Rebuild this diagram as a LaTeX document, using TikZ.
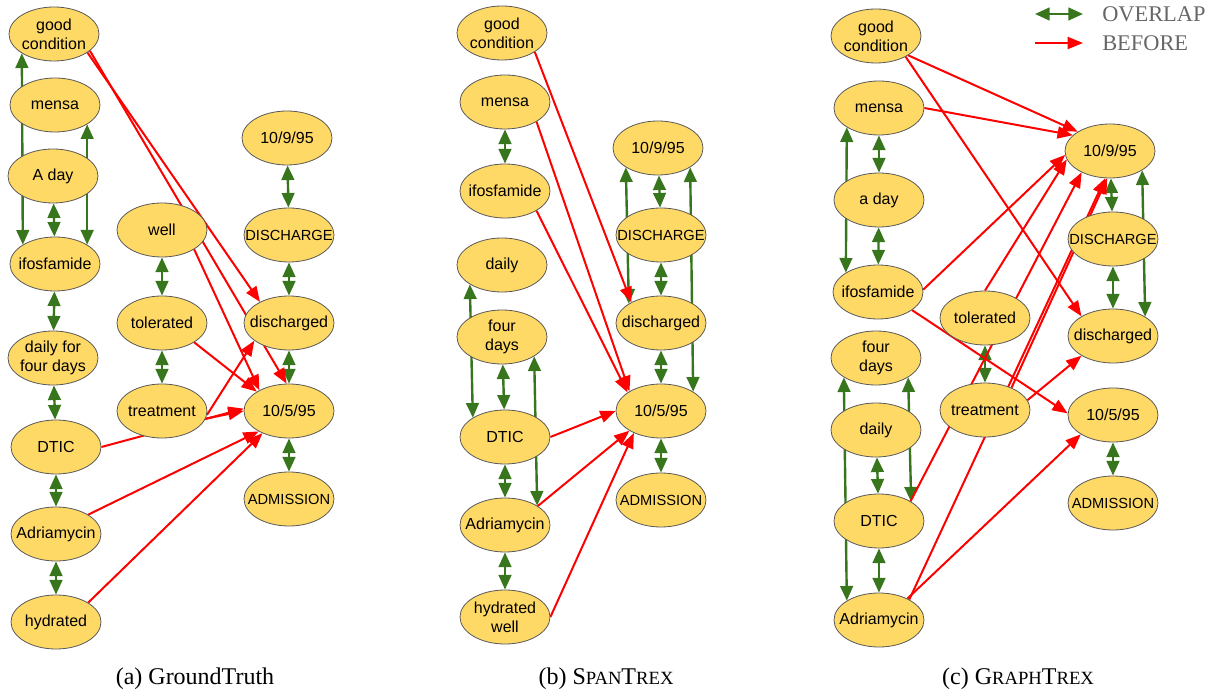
\documentclass[tikz,border=0pt]{standalone}
\usepackage{fontspec}
\setmainfont{Liberation Serif}
\setsansfont{Liberation Sans}
\usetikzlibrary{
    arrows.meta,
    shapes.geometric,
    backgrounds
}
\definecolor{evfill}{HTML}{FFD966}
\definecolor{evline}{HTML}{595959}
\definecolor{ovgreen}{HTML}{38761D}
\definecolor{legendgray}{HTML}{666666}
\newcommand{\scpart}[1]{{\fontsize{14}{16}\selectfont #1}}

\begin{document}
\begin{tikzpicture}[x=0.75pt, y=-0.75pt,
    event/.style={ellipse, draw=evline, line width=0.6pt, fill=evfill,
        minimum width=67.5pt, minimum height=40.5pt, inner xsep=-14pt, inner ysep=0pt,
        align=center, font=\sffamily\fontsize{12}{14.5}\selectfont},
    capsevent/.style={event, font=\sffamily\fontsize{11}{13}\selectfont},
    overlap/.style={ovgreen, line width=1.8pt,
        {Triangle[length=11pt,width=9.5pt]}-{Triangle[length=11pt,width=9.5pt]}},
    before/.style={red, line width=1.5pt, -{Triangle[length=11.5pt,width=9pt]}},
    caption/.style={font=\fontsize{18}{20}\selectfont}]
    \useasboundingbox (0,0) rectangle (1215,695);

    % (a) ground truth
    \node[event] (agood) at (54,34) {good\\condition};
    \node[event] (amensa) at (55,105) {mensa};
    \node[event] (aaday) at (53,176) {A day};
    \node[event] (aifos) at (55,264) {ifosfamide};
    \node[event] (adaily) at (53,358) {daily for\\four days};
    \node[event] (adtic) at (56,447) {DTIC};
    \node[event] (aadria) at (56,534) {Adriamycin};
    \node[event] (ahydr) at (56,622) {hydrated};
    \node[event] (awell) at (162,230) {well};
    \node[event] (atol) at (162,323) {tolerated};
    \node[event] (atreat) at (162,411) {treatment};
    \node[event] (a1009) at (287,138) {10/9/95};
    \node[capsevent] (aDIS) at (289,235) {DISCHARGE};
    \node[event] (adis) at (289,323) {discharged};
    \node[event] (a1005) at (289,411) {10/5/95};
    \node[capsevent] (aADM) at (289,499) {ADMISSION};
    \node[caption] (capa) at (195,679) {(a) GroundTruth};

    % (b) span model
    \node[event] (bgood) at (502,33) {good\\condition};
    \node[event] (bmensa) at (505,102) {mensa};
    \node[event] (bifos) at (505,191) {ifosfamide};
    \node[event] (bdaily) at (502,265) {daily};
    \node[event] (bfour) at (502,337) {four\\days};
    \node[event] (bdtic) at (505,437) {DTIC};
    \node[event] (badria) at (505,525) {Adriamycin};
    \node[event] (bhydr) at (505,617) {hydrated\\well};
    \node[event] (b1009) at (658,148) {10/9/95};
    \node[capsevent] (bDIS) at (661,235) {DISCHARGE};
    \node[event] (bdis) at (661,323) {discharged};
    \node[event] (b1005) at (661,411) {10/5/95};
    \node[capsevent] (bADM) at (661,500) {ADMISSION};
    \node[caption] (capb) at (606,679) {(b) S\scpart{PAN}T\scpart{REX}};

    % (c) graph model
    \node[event] (cgood) at (876,36) {good\\condition};
    \node[event] (cmensa) at (879,108) {mensa};
    \node[event] (caday) at (879,200) {a day};
    \node[event] (cifos) at (878,292) {ifosfamide};
    \node[event] (cfour) at (876,358) {four\\days};
    \node[event] (cdaily) at (876,430) {daily};
    \node[event] (cdtic) at (879,521) {DTIC};
    \node[event] (cadria) at (879,620) {Adriamycin};
    \node[event] (ctol) at (985,318) {tolerated};
    \node[event] (ctreat) at (985,410) {treatment};
    \node[event] (c1009) at (1110,151) {10/9/95};
    \node[capsevent] (cDIS) at (1113,239) {DISCHARGE};
    \node[event] (cdis) at (1113,336) {discharged};
    \node[event] (c1005) at (1113,415) {10/5/95};
    \node[capsevent] (cADM) at (1113,503) {ADMISSION};
    \node[caption] (capc) at (1018,679) {(c) G\scpart{RAPH}T\scpart{REX}};

    % legend
    \coordinate (ovs) at (1035,14);
    \coordinate (ove) at (1083,14);
    \coordinate (bfs) at (1035,43);
    \coordinate (bfe) at (1083,43);
    \draw[overlap] (ovs) -- (ove);
    \draw[before] (bfs) -- (bfe);
    \node[anchor=west, inner sep=0pt, text=legendgray, font=\fontsize{16.8}{18}\selectfont] (ovtext) at (1102,14) {OVERLAP};
    \node[anchor=west, inner sep=0pt, text=legendgray, font=\fontsize{16.8}{18}\selectfont] (bftext) at (1102,43) {BEFORE};

    \begin{scope}[on background layer]
        \draw
        (agood.-149) edge[overlap] (aifos.149)
        (amensa.-31) edge[overlap] (aifos.31)
        (aaday) edge[overlap] (aifos)
        (aifos) edge[overlap] (adaily)
        (adaily) edge[overlap] (adtic)
        (adtic) edge[overlap] (aadria)
        (aadria) edge[overlap] (ahydr)
        (awell) edge[overlap] (atol)
        (atol) edge[overlap] (atreat)
        (a1009) edge[overlap] (aDIS)
        (aDIS) edge[overlap] (adis)
        (adis) edge[overlap] (a1005)
        (a1005) edge[overlap] (aADM);
        \draw
        (agood.-29) edge[before] (adis.144)
        (agood.-25) edge[before] (a1005.95)
        (awell.-31) edge[before] (a1005.145)
        (atol.-31) edge[before] (a1005.149)
        (atreat.-5) edge[before] (adis.207)
        (atreat.-10) edge[before] (a1005.180)
        (adtic.0) edge[before] (a1005.177)
        (aadria.31) edge[before] (a1005.214)
        (ahydr.31) edge[before] (a1005.220);

        \draw
        (bmensa) edge[overlap] (bifos)
        (bdaily.-149) edge[overlap] (bdtic.149)
        (bfour.-31) edge[overlap] (badria.31)
        (bfour) edge[overlap] (bdtic)
        (bdtic) edge[overlap] (badria)
        (badria) edge[overlap] (bhydr)
        (b1009.-149) edge[overlap] (bdis.149)
        (b1009.-31) edge[overlap] (b1005.31)
        (b1009) edge[overlap] (bDIS)
        (bDIS) edge[overlap] (bdis)
        (bdis) edge[overlap] (b1005)
        (b1005) edge[overlap] (bADM);
        \draw
        (bgood.-30) edge[before] (bdis.145)
        (bmensa.-32) edge[before] (b1005.148)
        (bifos.-32) edge[before] (b1005.151)
        (bdtic.0) edge[before] (b1005.180)
        (badria.30) edge[before] (b1005.212)
        (bhydr.0) edge[before] (b1005.219);

        \draw
        (cmensa.-149) edge[overlap] (cifos.149)
        (cmensa) edge[overlap] (caday)
        (caday) edge[overlap] (cifos)
        (cfour.-149) edge[overlap] (cadria.149)
        (cfour.-31) edge[overlap] (cdtic.31)
        (cdaily) edge[overlap] (cdtic)
        (cdtic) edge[overlap] (cadria)
        (ctol) edge[overlap] (ctreat)
        (c1009.-31) edge[overlap] (cdis.31)
        (c1009) edge[overlap] (cDIS)
        (cDIS) edge[overlap] (cdis)
        (c1005) edge[overlap] (cADM);
        \draw
        (cgood.-31) edge[before] (c1009.149)
        (cgood.-35) edge[before] (cdis.148)
        (cmensa.0) edge[before] (c1009.157)
        (cifos.3) edge[before] (c1009.185)
        (ctol.90) edge[before] (c1009.191)
        (cdtic.32) edge[before] (c1009.217)
        (cadria.34) edge[before] (c1009.-100)
        (ctreat.40) edge[before] (c1009.-96)
        (ctreat.13) edge[before] (cdis.212)
        (cifos.-28) edge[before] (c1005.178)
        (cadria.37) edge[before] (c1005.211);
    \end{scope}
\end{tikzpicture}
\end{document}
